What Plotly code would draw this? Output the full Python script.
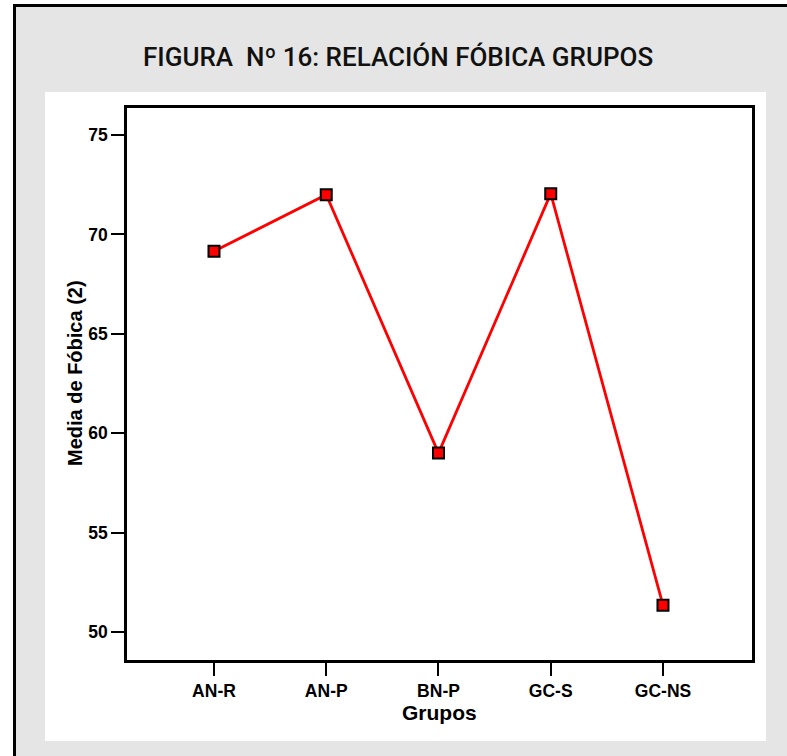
import plotly.graph_objects as go

groups = ["AN-R", "AN-P", "BN-P", "GC-S", "GC-NS"]
means = [69.15, 72.0, 59.0, 72.05, 51.35]
y_ticks = [50, 55, 60, 65, 70, 75]

W, H = 787, 756
L, R, T, B = 127, 752, 108, 660  # plot area in pixels
pw, ph = R - L, B - T

def px(x):
    return (x - L) / pw

def py(y):
    return (B - y) / ph

fig = go.Figure()
fig.add_trace(go.Scatter(
    x=groups, y=means, mode="lines+markers",
    line=dict(color="#ff0000", width=2.8),
    marker=dict(symbol="square", size=11, color="#ff0000",
                line=dict(color="black", width=2)),
    hoverinfo="x+y", showlegend=False,
))

shapes = [
    # white strips outside the outer frame
    dict(type="rect", xref="paper", yref="paper", layer="below",
         x0=px(-5), x1=px(13), y0=py(-5), y1=py(770),
         fillcolor="white", line=dict(width=0)),
    dict(type="rect", xref="paper", yref="paper", layer="below",
         x0=px(-5), x1=px(800), y0=py(-5), y1=py(4),
         fillcolor="white", line=dict(width=0)),
    # outer frame lines (left and top)
    dict(type="line", xref="paper", yref="paper", layer="below",
         x0=px(14.5), x1=px(14.5), y0=py(4), y1=py(770),
         line=dict(color="black", width=3)),
    dict(type="line", xref="paper", yref="paper", layer="below",
         x0=px(13), x1=px(800), y0=py(5.5), y1=py(5.5),
         line=dict(color="black", width=3)),
    # white panel
    dict(type="rect", xref="paper", yref="paper", layer="below",
         x0=px(45), x1=px(766), y0=py(92), y1=py(741),
         fillcolor="white", line=dict(width=0)),
]

annotations = [
    dict(text="FIGURA  Nº 16: RELACIÓN FÓBICA GRUPOS", xref="paper", yref="paper",
         x=px(397.5), y=py(57), xanchor="center", yanchor="middle", showarrow=False,
         font=dict(family="Roboto", size=26, color="#111111", weight=500)),
    dict(text="Media de Fóbica (2)", xref="paper", yref="paper",
         x=px(75), y=py(373), xanchor="center", yanchor="middle", showarrow=False,
         textangle=-90,
         font=dict(family="Liberation Sans, Arial", size=20, color="black", weight="bold")),
    dict(text="Grupos", xref="paper", yref="paper",
         x=px(439), y=py(712), xanchor="center", yanchor="middle", showarrow=False,
         font=dict(family="Liberation Sans, Arial", size=21, color="black", weight="bold")),
]

axis_common = dict(
    showgrid=False, zeroline=False, showline=True, linecolor="black", linewidth=2.5,
    mirror=True, ticks="outside", ticklen=13, tickwidth=2, tickcolor="black",
    tickfont=dict(family="Liberation Sans, Arial", size=17.5, color="black", weight="bold"),
)

fig.update_layout(
    width=W, height=H,
    margin=dict(l=L, r=W - R, t=T, b=H - B, pad=0),
    paper_bgcolor="#e5e5e5", plot_bgcolor="white",
    shapes=shapes, annotations=annotations,
    xaxis=dict(type="category", categoryorder="array", categoryarray=groups,
               range=[-0.775, 4.793], **axis_common),
    yaxis=dict(range=[48.59, 76.36], tickvals=y_ticks, **axis_common),
)

fig.write_html("out.html", config={"displayModeBar": False},
               post_script="document.body.style.margin='0px';document.body.style.overflow='hidden';")
